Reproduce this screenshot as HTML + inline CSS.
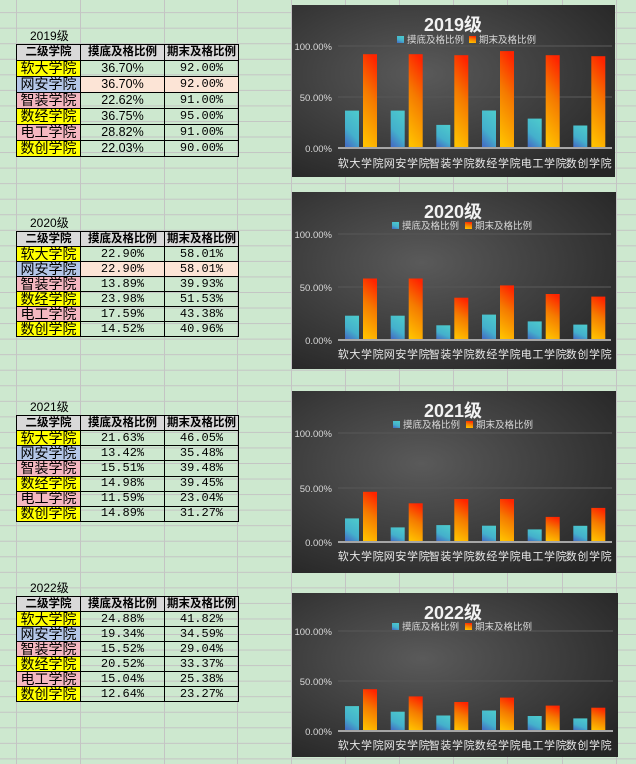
<!DOCTYPE html>
<html><head><meta charset="utf-8">
<style>
*{margin:0;padding:0;box-sizing:border-box}
body{width:636px;height:764px;overflow:hidden;position:relative;background:#cde8cf;font-family:"Liberation Sans","Noto Sans CJK SC",sans-serif}
.hl{position:absolute;left:0;top:0;width:636px;height:764px;background:repeating-linear-gradient(to bottom,transparent 0,transparent 12.3px,#c4c4c4 12.3px,#c4c4c4 13.3px,transparent 13.3px,transparent 15.55px);background-size:636px 15.55px}
.vl{position:absolute;top:0;width:1px;height:764px;background:#c4c4c4}
.cap{position:absolute;left:30px;font-size:12px;color:#000;line-height:13px}
table{position:absolute;left:16px;width:222px;border-collapse:collapse;font-size:12.5px;table-layout:fixed}
td{border:1px solid #000;text-align:center;padding:0;line-height:13px;white-space:nowrap;overflow:hidden}
td.a{font-size:14px}
.h td{background:#d9d9d9;font-weight:bold;font-size:11.5px}
.y{background:#ffff00}.bl{background:#b4c6e7}.pk{background:#f4b7c0}.pe{background:#fce4d6}
.m{font-family:"Liberation Mono","Noto Sans CJK SC",monospace;font-size:12px}
svg{position:absolute;left:0;top:0}
</style></head><body>
<div class="hl"></div>
<div class="vl" style="left:16px"></div><div class="vl" style="left:80px"></div><div class="vl" style="left:164px"></div><div class="vl" style="left:237px"></div><div class="vl" style="left:291px"></div><div class="vl" style="left:345px"></div><div class="vl" style="left:399px"></div><div class="vl" style="left:453px"></div><div class="vl" style="left:507px"></div><div class="vl" style="left:562px"></div><div class="vl" style="left:616px"></div>

<div class="cap" style="top:30px">2019级</div>
<table style="top:44px;height:113px"><colgroup><col style="width:64px"><col style="width:84px"><col style="width:74px"></colgroup>
<tr class="h"><td>二级学院</td><td>摸底及格比例</td><td>期末及格比例</td></tr>
<tr><td class="a y">软大学院</td><td>36.70%</td><td class="m">92.00%</td></tr>
<tr><td class="a bl">网安学院</td><td class="pe">36.70%</td><td class="m pe">92.00%</td></tr>
<tr><td class="a pk">智装学院</td><td>22.62%</td><td class="m">91.00%</td></tr>
<tr><td class="a y">数经学院</td><td>36.75%</td><td class="m">95.00%</td></tr>
<tr><td class="a pk">电工学院</td><td>28.82%</td><td class="m">91.00%</td></tr>
<tr><td class="a y">数创学院</td><td>22.03%</td><td class="m">90.00%</td></tr>
</table>

<div class="cap" style="top:217px">2020级</div>
<table style="top:231px;height:106px"><colgroup><col style="width:64px"><col style="width:84px"><col style="width:74px"></colgroup>
<tr class="h"><td>二级学院</td><td>摸底及格比例</td><td>期末及格比例</td></tr>
<tr><td class="a y">软大学院</td><td class="m">22.90%</td><td class="m">58.01%</td></tr>
<tr><td class="a bl">网安学院</td><td class="m pe">22.90%</td><td class="m pe">58.01%</td></tr>
<tr><td class="a pk">智装学院</td><td class="m">13.89%</td><td class="m">39.93%</td></tr>
<tr><td class="a y">数经学院</td><td class="m">23.98%</td><td class="m">51.53%</td></tr>
<tr><td class="a pk">电工学院</td><td class="m">17.59%</td><td class="m">43.38%</td></tr>
<tr><td class="a y">数创学院</td><td class="m">14.52%</td><td class="m">40.96%</td></tr>
</table>

<div class="cap" style="top:401px">2021级</div>
<table style="top:415px;height:107px"><colgroup><col style="width:64px"><col style="width:84px"><col style="width:74px"></colgroup>
<tr class="h"><td>二级学院</td><td>摸底及格比例</td><td>期末及格比例</td></tr>
<tr><td class="a y">软大学院</td><td class="m">21.63%</td><td class="m">46.05%</td></tr>
<tr><td class="a bl">网安学院</td><td class="m">13.42%</td><td class="m">35.48%</td></tr>
<tr><td class="a pk">智装学院</td><td class="m">15.51%</td><td class="m">39.48%</td></tr>
<tr><td class="a y">数经学院</td><td class="m">14.98%</td><td class="m">39.45%</td></tr>
<tr><td class="a pk">电工学院</td><td class="m">11.59%</td><td class="m">23.04%</td></tr>
<tr><td class="a y">数创学院</td><td class="m">14.89%</td><td class="m">31.27%</td></tr>
</table>

<div class="cap" style="top:582px">2022级</div>
<table style="top:596px;height:106px"><colgroup><col style="width:64px"><col style="width:84px"><col style="width:74px"></colgroup>
<tr class="h"><td>二级学院</td><td>摸底及格比例</td><td>期末及格比例</td></tr>
<tr><td class="a y">软大学院</td><td class="m">24.88%</td><td class="m">41.82%</td></tr>
<tr><td class="a bl">网安学院</td><td class="m">19.34%</td><td class="m">34.59%</td></tr>
<tr><td class="a pk">智装学院</td><td class="m">15.52%</td><td class="m">29.04%</td></tr>
<tr><td class="a y">数经学院</td><td class="m">20.52%</td><td class="m">33.37%</td></tr>
<tr><td class="a pk">电工学院</td><td class="m">15.04%</td><td class="m">25.38%</td></tr>
<tr><td class="a y">数创学院</td><td class="m">12.64%</td><td class="m">23.27%</td></tr>
</table>

<svg width="636" height="764" viewBox="0 0 636 764" font-family="Liberation Sans, Noto Sans CJK SC, sans-serif">
<defs>
<radialGradient id="bg" cx="0.4" cy="0.4" r="0.75"><stop offset="0" stop-color="#5a5a5a"/><stop offset="1" stop-color="#262626"/></radialGradient>
<linearGradient id="gb" x1="0.7" y1="0" x2="0.3" y2="1"><stop offset="0" stop-color="#4cc8cc"/><stop offset="0.6" stop-color="#44b0cc"/><stop offset="1" stop-color="#4472c4"/></linearGradient>
<linearGradient id="go" x1="0.6" y1="0" x2="0.4" y2="1"><stop offset="0" stop-color="#ff2400"/><stop offset="0.45" stop-color="#f57a00"/><stop offset="1" stop-color="#ffc000"/></linearGradient>
</defs>

<!-- Chart 1 -->
<g>
<rect x="292" y="5" width="323" height="172" fill="url(#bg)"/>
<text x="453" y="31" text-anchor="middle" fill="#f2f2f2" font-weight="bold" font-size="18">2019级</text>
<rect x="397" y="36" width="7" height="7" fill="url(#gb)"/><text x="407" y="43" fill="#d9d9d9" font-size="9.5">摸底及格比例</text>
<rect x="469" y="36" width="7" height="7" fill="url(#go)"/><text x="479" y="43" fill="#d9d9d9" font-size="9.5">期末及格比例</text>
<line x1="338" x2="612" y1="46" y2="46" stroke="#555" stroke-width="1.3"/>
<line x1="338" x2="612" y1="97" y2="97" stroke="#555" stroke-width="1.3"/>
<g fill="#d9d9d9" font-size="9.5" text-anchor="end"><text x="332" y="50">100.00%</text><text x="332" y="101">50.00%</text><text x="332" y="152">0.00%</text></g>
<g fill="url(#gb)"><rect x="345" y="110.6" width="14" height="37.4"/><rect x="390.7" y="110.6" width="14" height="37.4"/><rect x="436.3" y="124.9" width="14" height="23.1"/><rect x="482" y="110.5" width="14" height="37.5"/><rect x="527.7" y="118.6" width="14" height="29.4"/><rect x="573.3" y="125.5" width="14" height="22.5"/></g>
<g fill="url(#go)"><rect x="363" y="54.2" width="14" height="93.8"/><rect x="408.7" y="54.2" width="14" height="93.8"/><rect x="454.3" y="55.2" width="14" height="92.8"/><rect x="500" y="51.1" width="14" height="96.9"/><rect x="545.7" y="55.2" width="14" height="92.8"/><rect x="591.3" y="56.2" width="14" height="91.8"/></g>
<line x1="338" x2="612" y1="148" y2="148" stroke="#a6a6a6" stroke-width="2"/>
<g fill="#e8e8e8" font-size="11" letter-spacing="0.6" text-anchor="middle"><text x="361" y="167">软大学院</text><text x="407" y="167">网安学院</text><text x="452" y="167">智装学院</text><text x="498" y="167">数经学院</text><text x="544" y="167">电工学院</text><text x="589" y="167">数创学院</text></g>
</g>

<!-- Chart 2 -->
<g>
<rect x="292" y="192" width="324" height="177" fill="url(#bg)"/>
<text x="453" y="218" text-anchor="middle" fill="#f2f2f2" font-weight="bold" font-size="18">2020级</text>
<rect x="392" y="222" width="7" height="7" fill="url(#gb)"/><text x="402" y="229" fill="#d9d9d9" font-size="9.5">摸底及格比例</text>
<rect x="465" y="222" width="7" height="7" fill="url(#go)"/><text x="475" y="229" fill="#d9d9d9" font-size="9.5">期末及格比例</text>
<line x1="338" x2="611" y1="234" y2="234" stroke="#555" stroke-width="1.3"/>
<line x1="338" x2="611" y1="287" y2="287" stroke="#555" stroke-width="1.3"/>
<g fill="#d9d9d9" font-size="9.5" text-anchor="end"><text x="332" y="238">100.00%</text><text x="332" y="291">50.00%</text><text x="332" y="344">0.00%</text></g>
<g fill="url(#gb)"><rect x="345" y="315.7" width="14" height="24.3"/><rect x="390.7" y="315.7" width="14" height="24.3"/><rect x="436.3" y="325.3" width="14" height="14.7"/><rect x="482" y="314.6" width="14" height="25.4"/><rect x="527.7" y="321.4" width="14" height="18.6"/><rect x="573.3" y="324.6" width="14" height="15.4"/></g>
<g fill="url(#go)"><rect x="363" y="278.5" width="14" height="61.5"/><rect x="408.7" y="278.5" width="14" height="61.5"/><rect x="454.3" y="297.7" width="14" height="42.3"/><rect x="500" y="285.4" width="14" height="54.6"/><rect x="545.7" y="294" width="14" height="46"/><rect x="591.3" y="296.6" width="14" height="43.4"/></g>
<line x1="338" x2="611" y1="340" y2="340" stroke="#a6a6a6" stroke-width="2"/>
<g fill="#e8e8e8" font-size="11" letter-spacing="0.6" text-anchor="middle"><text x="361" y="358">软大学院</text><text x="407" y="358">网安学院</text><text x="452" y="358">智装学院</text><text x="498" y="358">数经学院</text><text x="544" y="358">电工学院</text><text x="589" y="358">数创学院</text></g>
</g>

<!-- Chart 3 -->
<g>
<rect x="292" y="391" width="324" height="182" fill="url(#bg)"/>
<text x="453" y="417" text-anchor="middle" fill="#f2f2f2" font-weight="bold" font-size="18">2021级</text>
<rect x="393" y="421" width="7" height="7" fill="url(#gb)"/><text x="403" y="428" fill="#d9d9d9" font-size="9.5">摸底及格比例</text>
<rect x="466" y="421" width="7" height="7" fill="url(#go)"/><text x="476" y="428" fill="#d9d9d9" font-size="9.5">期末及格比例</text>
<line x1="338" x2="612" y1="433" y2="433" stroke="#555" stroke-width="1.3"/>
<line x1="338" x2="612" y1="488" y2="488" stroke="#555" stroke-width="1.3"/>
<g fill="#d9d9d9" font-size="9.5" text-anchor="end"><text x="332" y="437">100.00%</text><text x="332" y="492">50.00%</text><text x="332" y="546">0.00%</text></g>
<g fill="url(#gb)"><rect x="345" y="518.4" width="14" height="23.6"/><rect x="390.7" y="527.4" width="14" height="14.6"/><rect x="436.3" y="525.1" width="14" height="16.9"/><rect x="482" y="525.7" width="14" height="16.3"/><rect x="527.7" y="529.4" width="14" height="12.6"/><rect x="573.3" y="525.8" width="14" height="16.2"/></g>
<g fill="url(#go)"><rect x="363" y="491.8" width="14" height="50.2"/><rect x="408.7" y="503.3" width="14" height="38.7"/><rect x="454.3" y="499" width="14" height="43"/><rect x="500" y="499" width="14" height="43"/><rect x="545.7" y="516.9" width="14" height="25.1"/><rect x="591.3" y="507.9" width="14" height="34.1"/></g>
<line x1="338" x2="612" y1="542" y2="542" stroke="#a6a6a6" stroke-width="2"/>
<g fill="#e8e8e8" font-size="11" letter-spacing="0.6" text-anchor="middle"><text x="361" y="560">软大学院</text><text x="407" y="560">网安学院</text><text x="452" y="560">智装学院</text><text x="498" y="560">数经学院</text><text x="544" y="560">电工学院</text><text x="589" y="560">数创学院</text></g>
</g>

<!-- Chart 4 -->
<g>
<rect x="292" y="593" width="326" height="164" fill="url(#bg)"/>
<text x="453" y="619" text-anchor="middle" fill="#f2f2f2" font-weight="bold" font-size="18">2022级</text>
<rect x="392" y="623" width="7" height="7" fill="url(#gb)"/><text x="402" y="630" fill="#d9d9d9" font-size="9.5">摸底及格比例</text>
<rect x="465" y="623" width="7" height="7" fill="url(#go)"/><text x="475" y="630" fill="#d9d9d9" font-size="9.5">期末及格比例</text>
<line x1="338" x2="613" y1="631" y2="631" stroke="#555" stroke-width="1.3"/>
<line x1="338" x2="613" y1="681" y2="681" stroke="#555" stroke-width="1.3"/>
<g fill="#d9d9d9" font-size="9.5" text-anchor="end"><text x="332" y="635">100.00%</text><text x="332" y="685">50.00%</text><text x="332" y="735">0.00%</text></g>
<g fill="url(#gb)"><rect x="345" y="706.1" width="14" height="24.9"/><rect x="390.7" y="711.7" width="14" height="19.3"/><rect x="436.3" y="715.5" width="14" height="15.5"/><rect x="482" y="710.5" width="14" height="20.5"/><rect x="527.7" y="716" width="14" height="15"/><rect x="573.3" y="718.4" width="14" height="12.6"/></g>
<g fill="url(#go)"><rect x="363" y="689.2" width="14" height="41.8"/><rect x="408.7" y="696.4" width="14" height="34.6"/><rect x="454.3" y="702" width="14" height="29"/><rect x="500" y="697.6" width="14" height="33.4"/><rect x="545.7" y="705.6" width="14" height="25.4"/><rect x="591.3" y="707.7" width="14" height="23.3"/></g>
<line x1="338" x2="613" y1="731" y2="731" stroke="#a6a6a6" stroke-width="2"/>
<g fill="#e8e8e8" font-size="11" letter-spacing="0.6" text-anchor="middle"><text x="361" y="749">软大学院</text><text x="407" y="749">网安学院</text><text x="452" y="749">智装学院</text><text x="498" y="749">数经学院</text><text x="544" y="749">电工学院</text><text x="589" y="749">数创学院</text></g>
</g>
</svg>
</body></html>
